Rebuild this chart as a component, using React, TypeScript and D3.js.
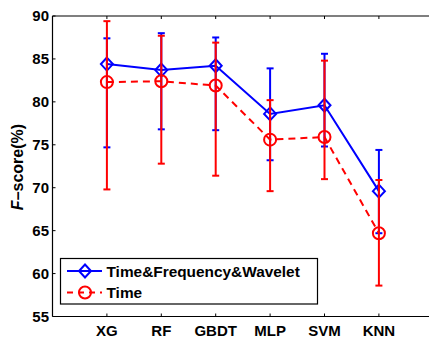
import React from "react";
import * as d3 from "d3";

const categories = ["XG", "RF", "GBDT", "MLP", "SVM", "KNN"];
const yTicks = [55, 60, 65, 70, 75, 80, 85, 90];

const tfwMean = [84.4, 83.7, 84.2, 78.6, 79.6, 69.6];
const tfwUpper = [87.4, 88.0, 87.5, 83.9, 85.6, 74.4];
const tfwLower = [74.7, 76.8, 76.7, 73.2, 74.8, 64.7];

const timeMean = [82.3, 82.4, 81.9, 75.6, 75.9, 64.7];
const timeUpper = [89.4, 87.7, 86.9, 80.2, 84.8, 70.9];
const timeLower = [69.8, 72.8, 71.4, 69.6, 71.0, 58.6];

const legendLabels = ["Time&Frequency&Wavelet", "Time"];

const W = 429;
const H = 337;
const left = 52.5;
const top = 16;
const bottom = 316.5;

export default function App() {
  const x = d3.scaleLinear().domain([0, 7]).range([left, 433.3]);
  const y = d3.scaleLinear().domain([55, 90]).range([bottom, top]);
  const line = d3
    .line<number>()
    .x((_, i) => x(i + 1))
    .y((d) => y(d));

  const font = "'Liberation Sans', Arial, sans-serif";
  const cap = 3.5;

  const errorBars = (
    means: number[],
    up: number[],
    lo: number[],
    color: string
  ) =>
    means.map((_, i) => {
      const cx = x(i + 1);
      return (
        <g key={i} stroke={color} strokeWidth={2}>
          <line x1={cx} x2={cx} y1={y(up[i])} y2={y(lo[i])} />
          <line x1={cx - cap} x2={cx + cap} y1={y(up[i])} y2={y(up[i])} />
          <line x1={cx - cap} x2={cx + cap} y1={y(lo[i])} y2={y(lo[i])} />
        </g>
      );
    });

  const diamond = (cx: number, cy: number, key?: any) => (
    <path
      key={key}
      d={`M${cx},${cy - 6.5}L${cx + 6},${cy}L${cx},${cy + 6.5}L${cx - 6},${cy}Z`}
      fill="none"
      stroke="#0000ff"
      strokeWidth={2}
    />
  );
  const circle = (cx: number, cy: number, key?: any) => (
    <circle key={key} cx={cx} cy={cy} r={6} fill="none" stroke="#ff0000" strokeWidth={2} />
  );

  const legX = 60.5;
  const legY = 258.5;
  const legW = 257;
  const legH = 45.5;
  const row1 = 271;
  const row2 = 292.5;

  return (
    <svg
      width={W}
      height={H}
      style={{ position: "absolute", left: 0, top: 0, background: "#fff" }}
      fontFamily={font}
    >
      <rect x={0} y={0} width={W} height={H} fill="#fff" />
      {/* axes box */}
      <g stroke="#000" strokeWidth={1.2} fill="none">
        <line x1={left} x2={W} y1={top} y2={top} />
        <line x1={left} x2={W} y1={bottom} y2={bottom} />
        <line x1={left} x2={left} y1={top} y2={bottom} />
      </g>
      {/* y ticks */}
      {yTicks.map((t) => (
        <g key={t}>
          <line x1={left} x2={left + 3} y1={y(t)} y2={y(t)} stroke="#000" strokeWidth={1} />
          <text
            x={left - 3.5}
            y={y(t)}
            dy="0.36em"
            textAnchor="end"
            fontSize={15}
            fontWeight="bold"
          >
            {t}
          </text>
        </g>
      ))}
      {/* x ticks */}
      {categories.map((c, i) => (
        <g key={c}>
          <line x1={x(i + 1)} x2={x(i + 1)} y1={top} y2={top + 3} stroke="#000" />
          <line x1={x(i + 1)} x2={x(i + 1)} y1={bottom} y2={bottom - 3} stroke="#000" />
          <text
            x={x(i + 1)}
            y={335.5}
            textAnchor="middle"
            fontSize={15}
            fontWeight="bold"
          >
            {c}
          </text>
        </g>
      ))}
      {/* y label */}
      <text
        transform={`translate(23,167) rotate(-90)`}
        textAnchor="middle"
        fontSize={16}
        fontWeight="bold"
      >
        <tspan fontStyle="italic">F</tspan>
        <tspan>–score(%)</tspan>
      </text>

      {/* blue series */}
      {errorBars(tfwMean, tfwUpper, tfwLower, "#0000ff")}
      <path d={line(tfwMean) || ""} fill="none" stroke="#0000ff" strokeWidth={2} />
      {tfwMean.map((v, i) => diamond(x(i + 1), y(v), i))}

      {/* red series */}
      {errorBars(timeMean, timeUpper, timeLower, "#ff0000")}
      <path
        d={line(timeMean) || ""}
        fill="none"
        stroke="#ff0000"
        strokeWidth={2}
        strokeDasharray="7,5"
      />
      {timeMean.map((v, i) => circle(x(i + 1), y(v), i))}

      {/* legend */}
      <rect x={legX} y={legY} width={legW} height={legH} fill="#fff" stroke="#000" strokeWidth={1.2} />
      <line x1={67} x2={102} y1={row1} y2={row1} stroke="#0000ff" strokeWidth={2} />
      {diamond(85, row1)}
      <text x={106.5} y={row1} dy="0.36em" fontSize={15.4} fontWeight="bold">
        {legendLabels[0]}
      </text>
      <line
        x1={67}
        x2={102}
        y1={row2}
        y2={row2}
        stroke="#ff0000"
        strokeWidth={2}
        strokeDasharray="6,5"
      />
      {circle(85, row2)}
      <text x={106.5} y={row2} dy="0.36em" fontSize={15.4} fontWeight="bold">
        {legendLabels[1]}
      </text>
    </svg>
  );
}
